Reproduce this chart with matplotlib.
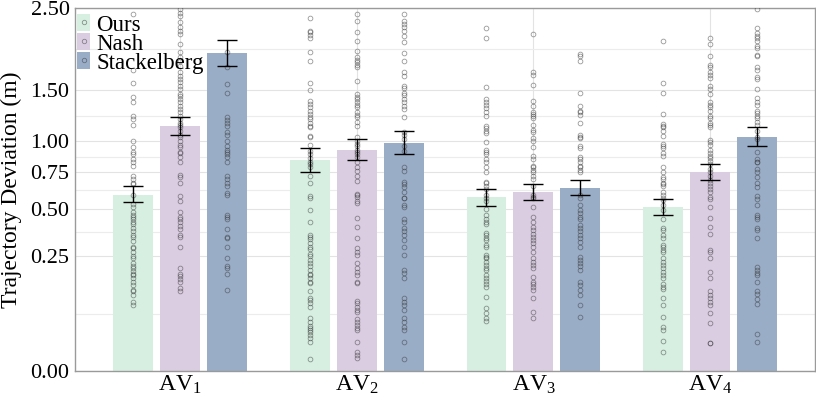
import numpy as np
import matplotlib
matplotlib.use("Agg")
import matplotlib.pyplot as plt
from matplotlib.patches import Patch
from matplotlib.lines import Line2D

plt.rcParams['font.family'] = ['Liberation Serif', 'DejaVu Serif']
plt.rcParams['mathtext.fontset'] = 'custom'
plt.rcParams['mathtext.rm'] = 'Liberation Serif'
plt.rcParams['mathtext.it'] = 'Liberation Serif:italic'

# categories / methods
groups = ['AV$_1$', 'AV$_2$', 'AV$_3$', 'AV$_4$']
methods = ['Ours', 'Nash', 'Stackelberg']
colors = ['#d6efe1', '#dacde2', '#99adc6']

# bar means and confidence interval bounds (per method, per AV)
means = {
    'Ours': [0.59, 0.843, 0.573, 0.511],
    'Nash': [1.135, 0.929, 0.606, 0.750],
    'Stackelberg': [1.916, 0.988, 0.636, 1.041],
}
ci_low = {
    'Ours': [0.543, 0.753, 0.519, 0.464],
    'Nash': [1.053, 0.841, 0.553, 0.691],
    'Stackelberg': [1.759, 0.895, 0.586, 0.957],
}
ci_high = {
    'Ours': [0.648, 0.942, 0.625, 0.562],
    'Nash': [1.221, 1.023, 0.660, 0.809],
    'Stackelberg': [2.077, 1.089, 0.691, 1.126],
}

# individual trials (only the ones visible below 2.5 m)
ours_pts = [
    [2.42, 1.72, 1.57, 1.42, 1.37, 1.23, 1.20, 1.15, 1.00, 0.95, 0.91, 0.89, 0.85, 0.83,
     0.80, 0.72, 0.70, 0.67, 0.66, 0.59, 0.53, 0.51, 0.48, 0.46, 0.45, 0.44, 0.42, 0.41,
     0.39, 0.37, 0.35, 0.34, 0.32, 0.29, 0.288, 0.27, 0.25, 0.24, 0.22, 0.21, 0.20, 0.19,
     0.18, 0.176, 0.165, 0.15, 0.14, 0.125, 0.12, 0.11, 0.09, 0.083],
    [2.36, 2.19, 2.18, 2.14, 2.10, 1.93, 1.82, 1.57, 1.50, 1.38, 1.35, 1.32, 1.28, 1.25,
     1.22, 1.20, 1.17, 1.14, 1.13, 1.05, 1.04, 0.97, 0.92, 0.89, 0.86, 0.83, 0.81, 0.79,
     0.72, 0.67, 0.58, 0.57, 0.49, 0.42, 0.35, 0.34, 0.33, 0.31, 0.29, 0.28, 0.26, 0.25,
     0.235, 0.22, 0.21, 0.195, 0.18, 0.176, 0.165, 0.15, 0.145, 0.12, 0.10, 0.096, 0.088,
     0.078, 0.054, 0.046, 0.039, 0.035, 0.032, 0.029, 0.025, 0.021, 0.016, 0.0027],
    [2.23, 2.10, 1.53, 1.40, 1.37, 1.34, 1.31, 1.27, 1.23, 1.135, 1.117, 1.09, 1.07, 0.991,
     0.93, 0.91, 0.89, 0.85, 0.83, 0.79, 0.748, 0.68, 0.667, 0.646, 0.625, 0.59, 0.57,
     0.545, 0.50, 0.464, 0.44, 0.423, 0.41, 0.363, 0.353, 0.337, 0.327, 0.303, 0.289,
     0.257, 0.248, 0.243, 0.227, 0.214, 0.202, 0.195, 0.176, 0.165, 0.154, 0.142, 0.134,
     0.104, 0.076, 0.064, 0.054, 0.048],
    [2.06, 1.57, 1.47, 1.25, 1.16, 1.14, 1.13, 1.09, 1.05, 0.98, 0.96, 0.94, 0.90, 0.873,
     0.786, 0.748, 0.71, 0.696, 0.67, 0.66, 0.646, 0.61, 0.59, 0.565, 0.551, 0.525, 0.494,
     0.435, 0.39, 0.379, 0.353, 0.337, 0.303, 0.289, 0.279, 0.266, 0.243, 0.227, 0.214,
     0.202, 0.187, 0.176, 0.165, 0.142, 0.134, 0.128, 0.10, 0.083, 0.056, 0.037, 0.031,
     0.017, 0.0069],
]
nash_pts = [
    [2.49, 2.43, 2.39, 2.31, 2.24, 2.19, 2.15, 2.03, 1.93, 1.87, 1.82, 1.76, 1.70, 1.65,
     1.62, 1.58, 1.54, 1.51, 1.45, 1.43, 1.40, 1.37, 1.33, 1.30, 1.27, 1.23, 1.20, 1.17,
     1.15, 1.13, 1.09, 1.06, 1.04, 1.00, 0.97, 0.95, 0.91, 0.90, 0.87, 0.83, 0.73, 0.71,
     0.67, 0.58, 0.55, 0.48, 0.45, 0.44, 0.42, 0.40, 0.38, 0.35, 0.34, 0.29, 0.20, 0.18,
     0.17, 0.16, 0.15, 0.13, 0.12],
    [2.42, 2.32, 2.18, 2.06, 1.94, 1.87, 1.83, 1.81, 1.77, 1.75, 1.60, 1.45, 1.42, 1.40,
     1.37, 1.34, 1.32, 1.27, 1.24, 1.22, 1.18, 1.135, 1.04, 1.00, 0.98, 0.96, 0.93, 0.91,
     0.89, 0.865, 0.83, 0.786, 0.755, 0.72, 0.681, 0.597, 0.584, 0.577, 0.545, 0.532,
     0.446, 0.395, 0.337, 0.288, 0.27, 0.257, 0.222, 0.202, 0.187, 0.176, 0.151, 0.145,
     0.093, 0.088, 0.078, 0.071, 0.066, 0.052, 0.046, 0.040, 0.035, 0.031, 0.016, 0.0069,
     0.0049, 0.0032],
    [2.15, 1.69, 1.66, 1.55, 1.38, 1.33, 1.27, 1.25, 1.23, 1.21, 1.15, 1.10, 1.08, 1.03,
     1.00, 0.95, 0.88, 0.85, 0.80, 0.786, 0.763, 0.748, 0.72, 0.696, 0.646, 0.59, 0.577,
     0.57, 0.507, 0.452, 0.423, 0.395, 0.379, 0.358, 0.342, 0.327, 0.312, 0.289, 0.266,
     0.243, 0.227, 0.214, 0.202, 0.169, 0.151, 0.142, 0.134, 0.125, 0.10, 0.066, 0.054],
    [2.10, 2.03, 1.88, 1.77, 1.75, 1.70, 1.66, 1.63, 1.54, 1.51, 1.45, 1.37, 1.34, 1.32,
     1.28, 1.23, 1.21, 1.17, 1.15, 1.13, 1.01, 0.99, 0.97, 0.93, 0.90, 0.873, 0.857,
     0.833, 0.81, 0.77, 0.748, 0.72, 0.688, 0.667, 0.646, 0.625, 0.604, 0.577, 0.558,
     0.507, 0.446, 0.395, 0.358, 0.279, 0.266, 0.243, 0.187, 0.165, 0.122, 0.11, 0.10,
     0.091, 0.083, 0.064, 0.044, 0.015, 0.015],
]
stack_pts = [
    [1.93, 1.75, 1.56, 1.47, 1.22, 1.19, 1.17, 1.14, 1.08, 1.06, 1.00, 0.96, 0.93, 0.91,
     0.89, 0.87, 0.83, 0.72, 0.70, 0.67, 0.65, 0.60, 0.59, 0.46, 0.45, 0.44, 0.38, 0.34,
     0.335, 0.29, 0.24, 0.21, 0.20, 0.18, 0.125],
    [2.42, 2.32, 2.28, 2.24, 2.19, 2.13, 2.05, 1.92, 1.82, 1.69, 1.65, 1.54, 1.52, 1.47,
     1.44, 1.40, 1.37, 1.33, 1.30, 1.22, 1.08, 1.06, 1.02, 0.96, 0.92, 0.79, 0.755, 0.68,
     0.66, 0.64, 0.61, 0.57, 0.565, 0.525, 0.507, 0.435, 0.418, 0.39, 0.37, 0.353, 0.327,
     0.29, 0.257, 0.195, 0.183, 0.165, 0.10, 0.091, 0.083, 0.071, 0.054, 0.046, 0.037,
     0.032, 0.016, 0.0027],
    [1.90, 1.88, 1.82, 1.46, 1.33, 1.28, 1.27, 1.24, 1.17, 1.06, 1.04, 1.03, 0.96, 0.94,
     0.865, 0.85, 0.83, 0.80, 0.786, 0.763, 0.748, 0.59, 0.565, 0.52, 0.494, 0.476, 0.452,
     0.435, 0.406, 0.39, 0.37, 0.353, 0.337, 0.317, 0.293, 0.248, 0.235, 0.222, 0.21,
     0.195, 0.151, 0.141, 0.125, 0.11, 0.083, 0.056],
    [2.48, 2.23, 2.17, 2.13, 2.10, 2.06, 2.00, 1.98, 1.89, 1.88, 1.75, 1.72, 1.64, 1.62,
     1.51, 1.41, 1.37, 1.34, 1.28, 1.26, 1.23, 1.21, 1.18, 1.15, 1.09, 1.04, 1.02, 0.91,
     0.85, 0.83, 0.825, 0.77, 0.748, 0.71, 0.67, 0.64, 0.58, 0.558, 0.525, 0.464, 0.452,
     0.435, 0.39, 0.379, 0.337, 0.206, 0.195, 0.183, 0.176, 0.151, 0.12, 0.113, 0.099,
     0.086, 0.026, 0.016],
]
points = {'Ours': ours_pts, 'Nash': nash_pts, 'Stackelberg': stack_pts}

yticks = [0.0, 0.25, 0.5, 0.75, 1.0, 1.5, 2.5]

fig = plt.figure(figsize=(8.16, 3.95), dpi=100)
ax = fig.add_axes([0.092, 0.061, 0.907, 0.919])

fwd = lambda v: np.sqrt(np.clip(v, 0, None))
inv = lambda v: np.square(v)
ax.set_yscale('function', functions=(fwd, inv))

x = np.arange(len(groups))
step = 0.266
width = 0.226
for i, m in enumerate(methods):
    xs = x + (i - 1) * step
    ax.bar(xs, means[m], width=width, color=colors[i], zorder=2)
    for j in range(len(groups)):
        pts = np.array(points[m][j])
        ax.plot(np.full(len(pts), xs[j]), pts, 'o', ms=3.4, mfc='none',
                mec='#333333', mew=0.6, alpha=0.5, zorder=3)
    lo = np.array(means[m]) - np.array(ci_low[m])
    hi = np.array(ci_high[m]) - np.array(means[m])
    ax.errorbar(xs, means[m], yerr=[lo, hi], fmt='none', ecolor='black',
                elinewidth=1.0, capsize=7.5, capthick=1.0, zorder=4)

ax.set_xlim(-0.595, 3.595)
ax.set_ylim(0, 2.5)
ax.set_yticks(yticks)
ax.set_yticklabels([f'{t:.2f}' for t in yticks])
# minor grid halfway between the major ticks on the sqrt scale
sq = np.sqrt(yticks)
ax.set_yticks(((sq[:-1] + sq[1:]) / 2) ** 2, minor=True)
ax.set_xticks(x)
ax.set_xticklabels(groups)
ax.tick_params(axis='both', which='both', length=0)
ax.tick_params(axis='y', labelsize=16, pad=4)
ax.tick_params(axis='x', labelsize=17, pad=2)
ax.grid(True, which='major', color='#e3e3e3', lw=0.8, zorder=0)
ax.grid(True, which='minor', axis='y', color='#ececec', lw=0.8, zorder=0)
ax.set_axisbelow(True)
for s in ax.spines.values():
    s.set_color('#9a9a9a')
    s.set_linewidth(1.0)
ax.set_ylabel('Trajectory Deviation (m)', fontsize=17, labelpad=6)

handles = [(Patch(facecolor=c, edgecolor='none'),
            Line2D([], [], ls='none', marker='o', ms=3.2, mfc='none', mec='#333333',
                   mew=0.6, alpha=0.5)) for c in colors]
ax.legend(handles, methods, loc='upper left', bbox_to_anchor=(0.0, 0.99), frameon=False,
          fontsize=16.5, handlelength=0.57, handleheight=0.8, handletextpad=0.25,
          labelspacing=-0.12, borderpad=0.1, borderaxespad=0.0)

fig.savefig('out.png', dpi=100)
